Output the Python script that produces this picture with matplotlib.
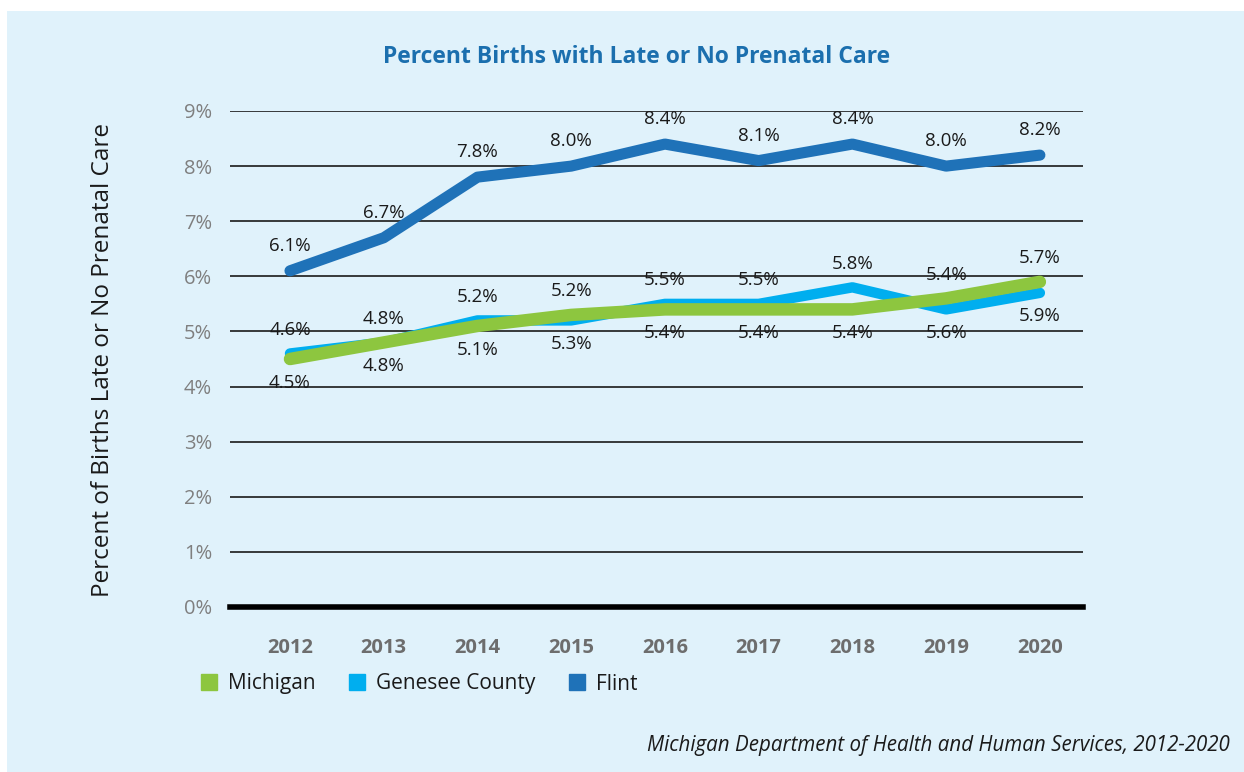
import matplotlib.pyplot as plt
from matplotlib.patches import Patch, Rectangle

years = [2012, 2013, 2014, 2015, 2016, 2017, 2018, 2019, 2020]
flint = [6.1, 6.7, 7.8, 8.0, 8.4, 8.1, 8.4, 8.0, 8.2]
genesee = [4.6, 4.8, 5.2, 5.2, 5.5, 5.5, 5.8, 5.4, 5.7]
michigan = [4.5, 4.8, 5.1, 5.3, 5.4, 5.4, 5.4, 5.6, 5.9]
yticks = list(range(0, 10))

c_flint = '#1f72b8'
c_gen = '#00aeef'
c_mich = '#8dc63f'
bg = '#e0f2fb'

plt.rcParams['font.family'] = ['Open Sans', 'DejaVu Sans']

fig = plt.figure(figsize=(12.44, 7.72), dpi=100)
fig.patch.set_facecolor('white')
# light blue panel
fig.patches.append(Rectangle((7 / 1244, 0), 1, 1 - 11 / 772, transform=fig.transFigure,
                             facecolor=bg, edgecolor='none', zorder=-10))

ax = fig.add_axes([230 / 1244, (772 - 607) / 772, 853 / 1244, 496 / 772])
ax.patch.set_alpha(0)
for s in ax.spines.values():
    s.set_visible(False)

for v in yticks[1:]:
    ax.axhline(v, color='#1a1a1a', lw=1.2, zorder=1)
ax.axhline(0, color='black', lw=4, zorder=1, clip_on=False)

kw = dict(solid_capstyle='round', solid_joinstyle='round', zorder=3, clip_on=False)
ax.plot(years, flint, color=c_flint, lw=8, **kw)
ax.plot(years, genesee, color=c_gen, lw=7.5, **kw)
ax.plot(years, michigan, color=c_mich, lw=9, **kw)

ax.set_xlim(2011.36, 2020.46)
ax.set_ylim(0, 9)

lab = dict(ha='center', va='center', fontsize=13.5, color='#1a1a1a', textcoords='offset points', zorder=5)
for x, v in zip(years, flint):
    ax.annotate(f'{v:.1f}%', (x, v), xytext=(0, 18), **lab)
for x, g, m in zip(years, genesee, michigan):
    ax.annotate(f'{g:.1f}%', (x, max(g, m)), xytext=(0, 17), **lab)
    ax.annotate(f'{m:.1f}%', (x, min(g, m)), xytext=(0, -17), **lab)

ax.set_yticks(yticks)
ax.set_yticklabels([f'{v}%' for v in yticks], fontsize=14.5, color='#7f7f7f')
ax.set_xticks(years)
ax.set_xticklabels([str(y) for y in years], fontsize=14.5, fontweight='bold', color='#6d6d6d')
ax.tick_params(axis='both', length=0)
ax.tick_params(axis='y', pad=13)
ax.tick_params(axis='x', pad=22)

fig.text(637 / 1244, 1 - 57 / 772, 'Percent Births with Late or No Prenatal Care',
         ha='center', va='center', fontsize=16.5, fontweight='bold', color='#1b6fae')
fig.text(103 / 1244, 1 - 360 / 772, 'Percent of Births Late or No Prenatal Care',
         ha='center', va='center', rotation=90, fontsize=17.5, color='#1a1a1a')
fig.text(1230 / 1244, 1 - 745 / 772, 'Michigan Department of Health and Human Services, 2012-2020',
         ha='right', va='center', fontsize=14.8, style='italic', color='#1a1a1a')

handles = [Patch(color=c_mich, label='Michigan'),
           Patch(color=c_gen, label='Genesee County'),
           Patch(color=c_flint, label='Flint')]
fig.legend(handles=handles, loc='center left', bbox_to_anchor=(182 / 1244, 1 - 684 / 772),
           ncol=3, frameon=False, fontsize=15, handlelength=0.8, handleheight=0.8,
           handletextpad=0.5, columnspacing=1.6, labelcolor='#1a1a1a')

fig.savefig('out.png', dpi=100, facecolor='white')
